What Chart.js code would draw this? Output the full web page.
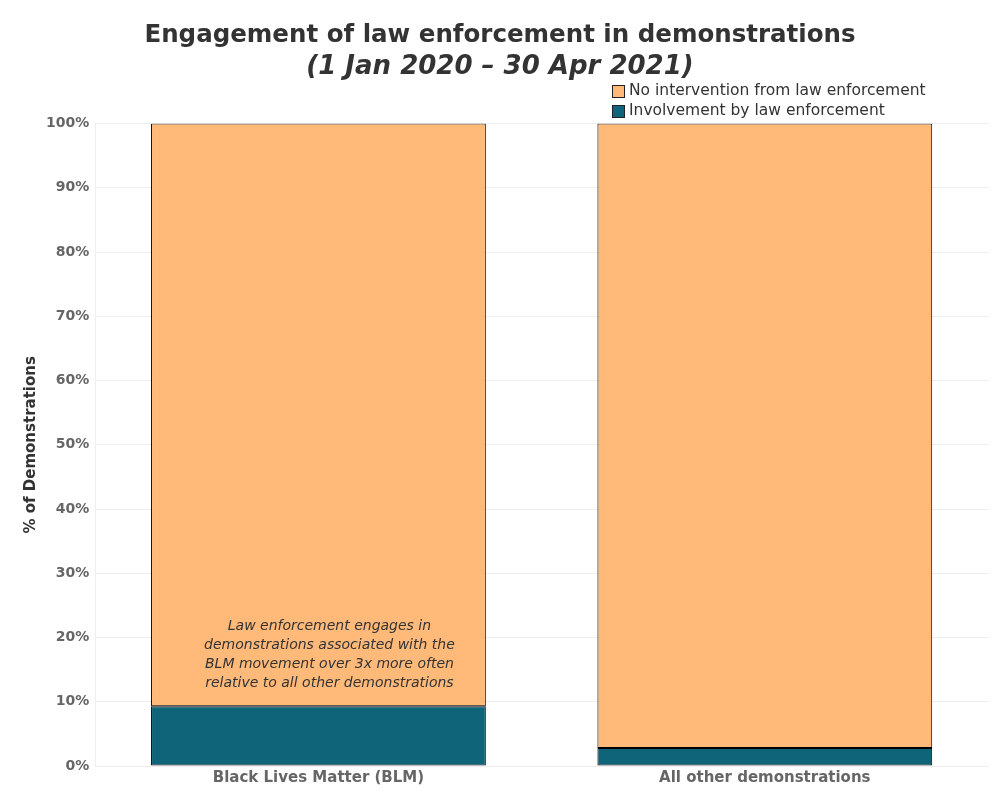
<!DOCTYPE html>
<html lang="en">
<head>
  <meta charset="UTF-8">
  <title>Engagement of law enforcement in demonstrations</title>
  <script src="https://cdn.jsdelivr.net/npm/chart.js"></script>
  <style>
    html, body { margin: 0; padding: 0; background: #fff; }
    #wrap { width: 1000px; height: 800px; }
  </style>
</head>
<body>
  <div id="wrap"><canvas id="chartCanvas" width="1000" height="800"></canvas></div>
  <script>
    // Datos
    const categories = ['Black Lives Matter (BLM)', 'All other demonstrations'];
    const involvement = [9.3, 2.8];
    const noIntervention = [90.7, 97.2];
    const seriesNames = ['No intervention from law enforcement', 'Involvement by law enforcement'];
    const note = [
      'Law enforcement engages in',
      'demonstrations associated with the',
      'BLM movement over 3x more often',
      'relative to all other demonstrations'
    ];

    const FONT = "'DejaVu Sans', Verdana, sans-serif";
    const ORANGE = '#ffb979';
    const TEAL = '#0f6479';

    // Leyenda vertical arriba a la derecha
    const legendPlugin = {
      id: 'stackLegend',
      afterDraw(chart) {
        const c = chart.ctx;
        const items = [
          { text: seriesNames[0], color: ORANGE },
          { text: seriesNames[1], color: TEAL }
        ];
        c.save();
        c.font = '15.5px ' + FONT;
        c.textBaseline = 'middle';
        items.forEach((it, i) => {
          const y = 91 + i * 20;
          c.fillStyle = it.color;
          c.fillRect(612, y - 6, 13, 13);
          c.strokeStyle = '#222';
          c.lineWidth = 1;
          c.strokeRect(612.5, y - 5.5, 12, 12);
          c.fillStyle = '#333';
          c.fillText(it.text, 629, y);
        });
        c.restore();
      }
    };

    // Nota sobre la barra BLM
    const notePlugin = {
      id: 'note',
      afterDatasetsDraw(chart) {
        const c = chart.ctx;
        const x = chart.scales.x.getPixelForValue(0) + 11;
        const y0 = chart.scales.y.getPixelForValue(21.7);
        c.save();
        c.font = 'italic 14px ' + FONT;
        c.fillStyle = '#333';
        c.textAlign = 'center';
        c.textBaseline = 'middle';
        note.forEach((line, i) => c.fillText(line, x, y0 + i * 19));
        c.restore();
      }
    };

    const barStyle = { borderColor: '#000', borderWidth: 1, borderSkipped: false, categoryPercentage: 0.75, barPercentage: 1 };

    new Chart(document.getElementById('chartCanvas'), {
      type: 'bar',
      data: {
        labels: categories,
        datasets: [
          Object.assign({ label: seriesNames[1], data: involvement, backgroundColor: TEAL }, barStyle),
          Object.assign({ label: seriesNames[0], data: noIntervention, backgroundColor: ORANGE }, barStyle)
        ]
      },
      options: {
        responsive: false,
        animation: false,
        layout: { padding: { left: 12, right: 12, top: 0, bottom: 10 } },
        plugins: {
          legend: { display: false },
          tooltip: { enabled: false },
          title: {
            display: true,
            text: 'Engagement of law enforcement in demonstrations',
            color: '#333',
            font: { family: FONT, size: 24.5, weight: 'bold' },
            padding: { top: 21, bottom: 1 }
          },
          subtitle: {
            display: true,
            text: '(1 Jan 2020 \u2013 30 Apr 2021)',
            color: '#333',
            font: { family: FONT, size: 26, weight: 'bold', style: 'italic' },
            padding: { top: 0, bottom: 41 }
          }
        },
        scales: {
          x: {
            stacked: true,
            grid: { display: false, drawTicks: false },
            border: { color: '#eee' },
            ticks: { color: '#666', font: { family: FONT, size: 15, weight: 'bold' }, padding: 3 }
          },
          y: {
            stacked: true,
            min: 0,
            max: 100,
            ticks: {
              stepSize: 10,
              color: '#666',
              font: { family: FONT, size: 14, weight: 'bold' },
              padding: 6,
              callback: v => v + '%'
            },
            grid: { color: '#eeeeee', drawTicks: false },
            border: { color: '#eee' },
            title: {
              display: true,
              text: '% of Demonstrations',
              color: '#333',
              font: { family: FONT, size: 15, weight: 'bold' },
              padding: { top: 10, bottom: 0 }
            }
          }
        }
      },
      plugins: [legendPlugin, notePlugin]
    });
  </script>
</body>
</html>
